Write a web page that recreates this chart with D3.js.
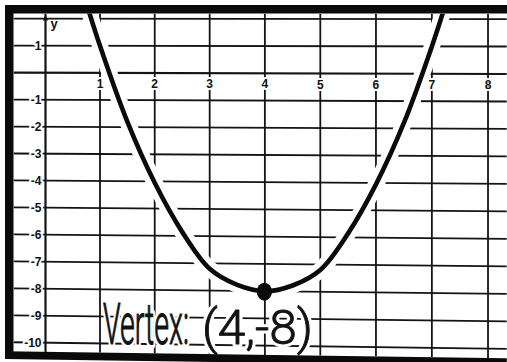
<!DOCTYPE html>
<html>
<head>
<meta charset="utf-8">
<script src="https://cdn.jsdelivr.net/npm/d3@7"></script>
<style>
  html, body { margin: 0; padding: 0; background: #fff; width: 507px; height: 362px; overflow: hidden; }
  #chart { width: 507px; height: 362px; overflow: hidden; }
  svg { display: block; }
  .lbl { font-family: "Liberation Sans", Arial, sans-serif; font-weight: bold; font-size: 12px; fill: #111;
         stroke: #fff; stroke-width: 4px; paint-order: stroke fill; stroke-linejoin: round; }
</style>
</head>
<body>
<div id="chart"></div>
<script>
// Grid values and tick labels
const xGrid  = [0, 1, 2, 3, 4, 5, 6, 7, 8];
const yGrid  = [2, 1, 0, -1, -2, -3, -4, -5, -6, -7, -8, -9, -10];
const xTicks = [1, 2, 3, 4, 5, 6, 7, 8];
const yTicks = [1, -1, -2, -3, -4, -5, -6, -7, -8, -9, -10];

// Hand-drawn parabola, sampled along the sketched curve
const curveX = [0.7, 1.0, 1.5, 2.0, 2.5, 3.0, 3.5, 4.0, 4.5, 5.0, 5.5, 6.0, 6.5, 7.0, 7.3];
const curveY = [2.9, 1.0, -1.8, -4.05, -5.85, -7.2, -7.78, -8, -7.78, -7.2, -5.85, -4.05, -1.8, 1.0, 2.9];

// Vertex point
const vertexX = 4;
const vertexY = -8;

const W = 507, H = 362;

// The sheet leans slightly away toward its right edge: a small perspective
// applied to every drawn coordinate (straight lines stay straight).
const tilt = 3.9e-5;
const warp = (px, py) => { const w = 1 - tilt * px; return [px / w, py / w]; };

const svg = d3.select("#chart").append("svg").attr("width", W).attr("height", H);
svg.append("rect").attr("width", W).attr("height", H).attr("fill", "#fff");

const x = d3.scaleLinear().domain([0, 8]).range([45.42, 478.9]);
const y = d3.scaleLinear().domain([0, -10]).range([72.57, 342.09]);

const fr = { outer: 5, innerL: 13.5, innerT: 13.5, innerB: 351.3, outerB: 359, right: 497 };
const poly = corners => "M" + corners.map(c => warp(c[0], c[1]).join(",")).join("L") + "Z";

const defs = svg.append("defs");
defs.append("clipPath").attr("id", "plot")
  .append("path")
  .attr("d", poly([[fr.innerL, fr.innerT], [fr.right, fr.innerT], [fr.right, fr.innerB], [fr.innerL, fr.innerB]]));

const plot = svg.append("g").attr("clip-path", "url(#plot)");
const seg = (a, b) => { const p = warp(a[0], a[1]), q = warp(b[0], b[1]); return `M${p[0]},${p[1]}L${q[0]},${q[1]}`; };

// grid
plot.append("g").selectAll("path").data(yGrid).join("path")
  .attr("d", d => seg([fr.innerL, y(d)], [fr.right, y(d)]))
  .attr("fill", "none")
  .attr("stroke", "#141414").attr("stroke-width", d => d === 0 ? 2.2 : 1.8);

plot.append("g").selectAll("path").data(xGrid).join("path")
  .attr("d", d => seg([x(d), fr.innerT], [x(d), fr.innerB]))
  .attr("fill", "none")
  .attr("stroke", "#141414").attr("stroke-width", d => d === 0 ? 2.2 : 1.8);

// y-axis arrowhead
plot.append("path")
  .attr("d", poly([[x(0), fr.innerT + 1], [x(0) - 2.6, fr.innerT + 7], [x(0) + 2.6, fr.innerT + 7]]))
  .attr("fill", "#141414");

// curve with a white margin that breaks the grid where it passes
const pts = curveX.map((v, i) => warp(x(v), y(curveY[i])));
const line = d3.line().curve(d3.curveCatmullRom.alpha(0.5));

plot.append("path").attr("d", line(pts))
  .attr("fill", "none").attr("stroke", "#fff").attr("stroke-width", 16)
  .attr("stroke-linecap", "round").attr("stroke-linejoin", "round");

plot.append("path").attr("d", line(pts))
  .attr("fill", "none").attr("stroke", "#0b0b0b").attr("stroke-width", 4.6)
  .attr("stroke-linecap", "round").attr("stroke-linejoin", "round");

const v = warp(x(vertexX), y(vertexY));
plot.append("ellipse")
  .attr("cx", v[0] - 0.5).attr("cy", v[1] + 0.5)
  .attr("rx", 7.6).attr("ry", 9)
  .attr("fill", "#0b0b0b");

// tick labels
svg.append("g").selectAll("text").data(xTicks).join("text")
  .attr("class", "lbl").attr("text-anchor", "middle")
  .attr("x", d => warp(x(d), y(0) + 15)[0])
  .attr("y", d => warp(x(d), y(0) + 15)[1])
  .text(d => String(d));

svg.append("g").selectAll("text").data(yTicks).join("text")
  .attr("class", "lbl").attr("text-anchor", "end")
  .attr("x", d => warp(x(0) - 4, y(d) + 4.2)[0])
  .attr("y", d => warp(x(0) - 4, y(d) + 4.2)[1])
  .text(d => String(d));

svg.append("text")
  .attr("x", x(0) + 5).attr("y", 28)
  .attr("font-family", "Liberation Sans, Arial, sans-serif")
  .attr("font-weight", "bold").attr("font-size", 13).attr("fill", "#111")
  .text("y");

// handwritten vertex note
function note(str, left, base, width, size) {
  const g = svg.append("g")
    .attr("font-family", "Roboto, sans-serif").attr("font-weight", 300).attr("font-size", size);
  const halo = g.append("text").text(str)
    .attr("fill", "#fff").attr("stroke", "#fff").attr("stroke-width", 7)
    .attr("stroke-linejoin", "round").attr("vector-effect", "non-scaling-stroke");
  const ink = g.append("text").text(str)
    .attr("fill", "#121212").attr("stroke", "#121212").attr("stroke-width", 0.9)
    .attr("stroke-linejoin", "round").attr("vector-effect", "non-scaling-stroke");
  const natural = ink.node().getComputedTextLength();
  const tf = `translate(${left},${base}) scale(${width / natural},1)`;
  halo.attr("transform", tf);
  ink.attr("transform", tf);
}
note("Vertex:", 103, 344, 86, 58);
note(`(${vertexX},${vertexY})`, 202, 344, 111, 48);

// heavy frame: top and left bands, bottom band follows the sheet's lean
const frame = svg.append("g").attr("fill", "#0a0a0a");
frame.append("rect").attr("x", fr.outer).attr("y", fr.outer)
  .attr("width", W - fr.outer).attr("height", fr.innerT - fr.outer);
frame.append("rect").attr("x", fr.outer).attr("y", fr.outer)
  .attr("width", fr.innerL - fr.outer).attr("height", fr.outerB - fr.outer);
frame.append("path").attr("d", poly([[fr.outer, fr.innerB], [fr.right, fr.innerB], [fr.right, fr.outerB], [fr.outer, fr.outerB]]));
</script>
</body>
</html>
